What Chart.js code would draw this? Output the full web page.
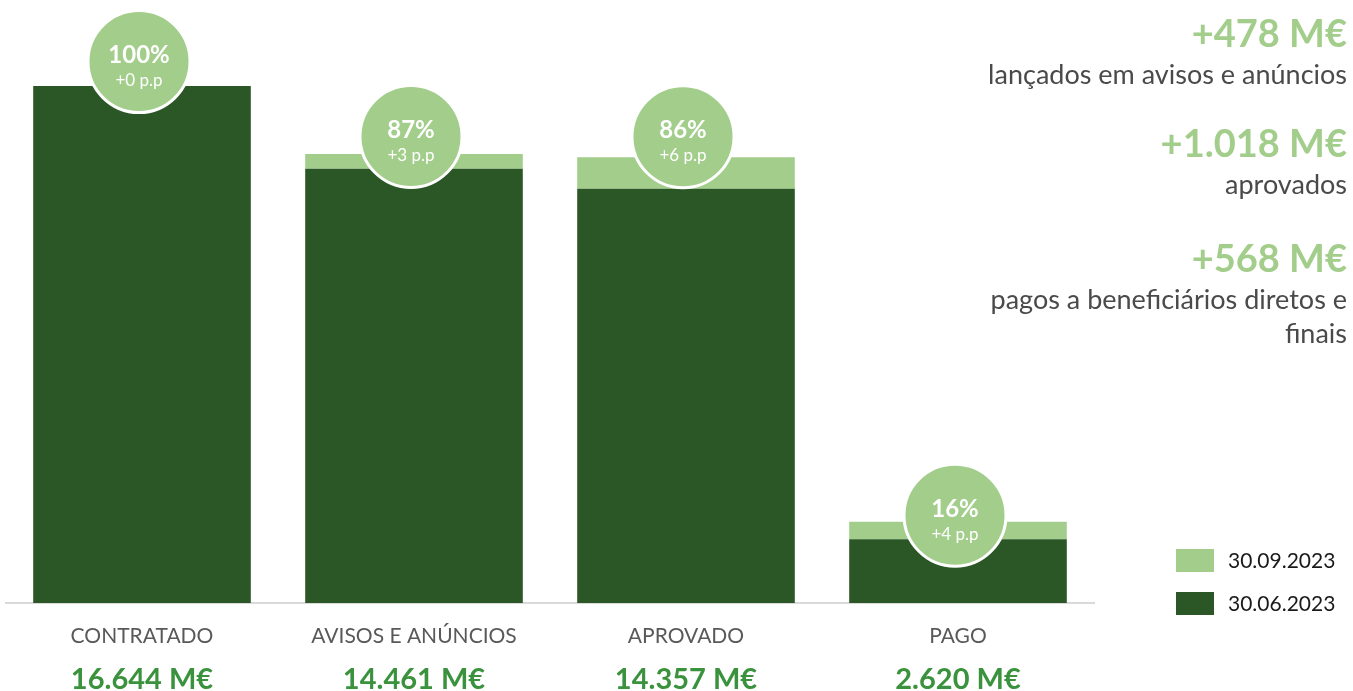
<!DOCTYPE html>
<html>
<head>
<meta charset="utf-8">
<script src="https://cdn.jsdelivr.net/npm/chart.js@4.4.0/dist/chart.umd.min.js"></script>
<style>
    html, body { margin: 0; padding: 0; background: #ffffff; }
    #chart { display: block; }
</style>
</head>
<body>
<canvas id="chart" width="1353" height="691"></canvas>
<script>
// data (M€)
const categories = ['CONTRATADO', 'AVISOS E ANÚNCIOS', 'APROVADO', 'PAGO'];
const valuesSep = [16644, 14461, 14357, 2620];   // 30.09.2023
const valuesJun = [16644, 13983, 13339, 2052];   // 30.06.2023
const percents = [100, 87, 86, 16];
const ppChange = [0, 3, 6, 4];
const seriesLabels = ['30.06.2023', '30.09.2023'];
const notes = ['lançados em avisos e anúncios', 'aprovados', 'pagos a beneficiários diretos e|finais'];

const DARK = '#2b5726';
const LIGHT = '#a3cd8b';
const VALUE_GREEN = '#3a923d';
const GREY = '#595959';
const FONT = 'Lato, "Open Sans", sans-serif';

const deltas = valuesSep.map((v, i) => v - valuesJun[i]);

function fmt(n) {
    return String(n).replace(/\B(?=(\d{3})+(?!\d))/g, '.');
}

// circles with percentage, category names and totals under the axis, notes and legend on the right
const annotations = {
    id: 'annotations',
    afterDatasetsDraw(chart) {
        const ctx = chart.ctx;
        const xScale = chart.scales.x;
        const yScale = chart.scales.y;
        const lift = [24.5, 17.5, 20.5, 6.5];

        ctx.save();
        ctx.textAlign = 'center';
        ctx.textBaseline = 'middle';

        categories.forEach((cat, i) => {
            const x = xScale.getPixelForValue(i) - 3;
            const cy = yScale.getPixelForValue(valuesSep[i]) - lift[i];

            ctx.beginPath();
            ctx.arc(x, cy, 51, 0, Math.PI * 2);
            ctx.fillStyle = LIGHT;
            ctx.fill();
            ctx.lineWidth = 3;
            ctx.strokeStyle = '#ffffff';
            ctx.stroke();

            ctx.fillStyle = '#ffffff';
            ctx.font = 'bold 24px ' + FONT;
            ctx.fillText(percents[i] + '%', x, cy - 6);
            ctx.font = '17px ' + FONT;
            ctx.fillText('+' + ppChange[i] + ' p.p', x, cy + 19);

            const lx = xScale.getPixelForValue(i);
            ctx.fillStyle = GREY;
            ctx.font = '21px ' + FONT;
            ctx.fillText(cat, lx, 636);
            ctx.fillStyle = VALUE_GREEN;
            ctx.font = 'bold 29px ' + FONT;
            ctx.fillText(fmt(valuesSep[i]) + ' M€', lx, 680);
        });

        // notes on the right
        ctx.textAlign = 'right';
        const right = 1347;
        const headY = [35, 145, 260];
        deltas.slice(1).forEach((d, k) => {
            ctx.fillStyle = LIGHT;
            ctx.font = 'bold 38px ' + FONT;
            ctx.fillText('+' + fmt(d) + ' M€', right, headY[k]);
            ctx.fillStyle = '#4a4a4a';
            ctx.font = '27px ' + FONT;
            notes[k].split('|').forEach((line, j) => {
                ctx.fillText(line, right, headY[k] + 40 + j * 34);
            });
        });

        // legend, newest first
        ctx.textAlign = 'left';
        ctx.font = '21px ' + FONT;
        [1, 0].forEach((d, k) => {
            const ds = chart.data.datasets[d];
            const top = 549 + k * 43;
            ctx.fillStyle = ds.backgroundColor;
            ctx.fillRect(1176, top, 38, 23);
            ctx.fillStyle = '#1a1a1a';
            ctx.fillText(ds.label, 1228, top + 12);
        });

        ctx.restore();
    }
};

const chart = new Chart(document.getElementById('chart').getContext('2d'), {
    type: 'bar',
    data: {
        labels: categories,
        datasets: [
            {
                label: seriesLabels[0],
                data: valuesJun,
                backgroundColor: DARK
            },
            {
                label: seriesLabels[1],
                data: deltas,
                backgroundColor: LIGHT
            }
        ]
    },
    options: {
        responsive: false,
        animation: false,
        layout: {
            padding: { left: 6, right: 259, top: 44, bottom: 80 }
        },
        datasets: {
            bar: { categoryPercentage: 1, barPercentage: 0.8 }
        },
        scales: {
            x: {
                stacked: true,
                grid: { display: false },
                ticks: { display: false },
                border: { color: '#d9d9d9', width: 2 }
            },
            y: {
                stacked: true,
                display: false,
                min: 0,
                max: 18000
            }
        },
        plugins: {
            legend: { display: false },
            tooltip: { enabled: false }
        }
    },
    plugins: [annotations]
});
</script>
</body>
</html>
